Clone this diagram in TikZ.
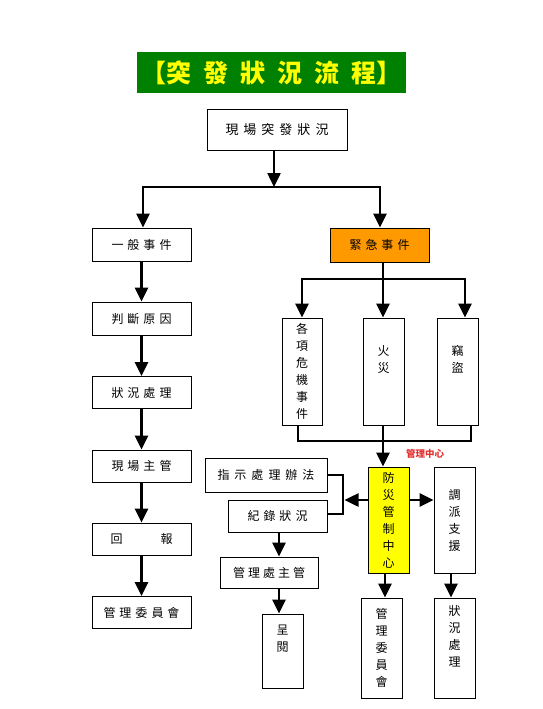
\documentclass[tikz,border=0pt]{standalone}
\usepackage{fontspec}
\setmainfont{Noto Sans CJK TC}
\usetikzlibrary{arrows.meta}
\definecolor{tgreen}{RGB}{0,128,0}
\definecolor{tyellow}{RGB}{255,255,0}
\definecolor{torange}{RGB}{255,153,0}
\definecolor{tred}{RGB}{225,50,50}
\newcommand\gp{\hspace{4pt}}
\begin{document}
\begin{tikzpicture}[x=1pt,y=-1pt,
  box/.style={draw, line width=0.8pt, inner sep=0pt, align=center, font=\fontsize{12}{17}\selectfont},
  hbox/.style={box, minimum width=99pt, minimum height=33pt},
  vbox/.style={box, minimum width=41pt},
  arr/.style={line width=2.5pt, -{Triangle[length=14pt,width=13pt]}},
  ln/.style={line width=2.5pt}]
\useasboundingbox (0,0) rectangle (542,709);
% title
\node[fill=tgreen, minimum width=269pt, minimum height=41pt, inner sep=0pt,
      text=tyellow, font=\fontsize{25}{28}\selectfont\bfseries] (title) at (271.5,72.5)
  {【突\hspace{12pt}發\hspace{12pt}狀\hspace{12pt}況\hspace{12pt}流\hspace{12pt}程】};
% top
\node[box, minimum width=140pt, minimum height=41pt, font=\fontsize{13}{17}\selectfont] (top) at (277,129.5)
  {現\hspace{5pt}場\hspace{5pt}突\hspace{5pt}發\hspace{5pt}狀\hspace{5pt}況};
% left column
\node[hbox] (gen) at (141.5,244.5) {一\gp 般\gp 事\gp 件};
\node[hbox] (judge) at (141.5,318.5) {判\gp 斷\gp 原\gp 因};
\node[hbox, minimum height=32pt] (handle) at (141.5,392.5) {狀\gp 況\gp 處\gp 理};
\node[hbox, minimum height=32pt] (site) at (141.5,466) {現\gp 場\gp 主\gp 管};
\node[hbox, minimum height=32pt] (report) at (141.5,539) {回\hspace{38pt}報};
\node[hbox, minimum height=32pt] (comm) at (141.5,612.5) {管\gp 理\gp 委\gp 員\gp 會};
% right side
\node[hbox, fill=torange, minimum height=34pt] (emer) at (379.5,245) {緊\gp 急\gp 事\gp 件};
\node[vbox, minimum width=40pt, minimum height=107pt] (crisis) at (302,371.5) {各\\項\\危\\機\\事\\件};
\node[vbox, minimum height=107pt] (fire) at (383.5,371.5) {火\\災\\[8pt]};
\node[vbox, minimum height=107pt] (theft) at (457.5,371.5) {竊\\盜\\[8pt]};
\node[vbox, fill=tyellow, minimum height=106pt] (ctrl) at (388.5,520) {防\\災\\管\\制\\中\\心};
\node[vbox, minimum height=106pt] (disp) at (454.5,520) {調\\派\\支\\援};
\node[vbox, minimum height=100pt] (comm2) at (381.5,648) {管\\理\\委\\員\\會};
\node[vbox, minimum height=100pt] (handle2) at (454.5,648) {狀\\況\\處\\理\\[8pt]};
\node[box, minimum width=122pt, minimum height=34pt] (instr) at (266,475)
  {指\hspace{5pt}示\hspace{5pt}處\hspace{5pt}理\hspace{5pt}辦\hspace{5pt}法};
\node[box, minimum width=99pt, minimum height=32pt] (record) at (277.5,516) {紀\gp 錄\gp 狀\gp 況};
\node[box, minimum width=98pt, minimum height=31pt] (mhead) at (269,572.5) {管\hspace{3pt}理\hspace{3pt}處\hspace{3pt}主\hspace{3pt}管};
\node[vbox, minimum height=74pt] (review) at (282.5,651) {呈\\閱\\[8pt]};
\node[text=tred, font=\fontsize{9.5}{11}\selectfont\bfseries] (mc) at (425,454) {管理中心};
% coordinates
\coordinate (tj) at (274,187);
\coordinate (ej) at (383,279);
\coordinate (cj) at (383,441);
\coordinate (bt) at (343,475);
\coordinate (bb) at (343,514);
\coordinate (bm) at (344.5,500);
% connectors
\draw[arr] ([xshift=-3pt]top.south) -- (tj);
\draw[arr] (tj) -| ([xshift=1.5pt]gen.north);
\draw[arr] (tj) -| ([xshift=0.5pt]emer.north);
\draw[arr] (gen) -- (judge);
\draw[arr] (judge) -- (handle);
\draw[arr] (handle) -- (site);
\draw[arr] (site) -- (report);
\draw[arr] (report) -- (comm);
\draw[ln] ([xshift=3.5pt]emer.south) -- (ej);
\draw[arr] (ej) -| (crisis.north);
\draw[arr] (ej) -- (ej |- fire.north);
\draw[arr] (ej) -| ([xshift=7.5pt]theft.north);
\draw[ln] ([xshift=-4pt]crisis.south) |- (cj) -| ([xshift=13.5pt]theft.south);
\draw[ln] (ej |- fire.south) -- (cj);
\draw[arr] (cj) -- (cj |- ctrl.north);
\draw[arr] ([yshift=20pt]ctrl.east) -- ([yshift=20pt]disp.west);
\draw[arr] ([yshift=20pt]ctrl.west) -- (bm);
\draw[ln] (instr.east) -- (bt) -- (bb) -- ([yshift=2pt]record.east);
\draw[arr] ([xshift=1.5pt]record.south) -- ([xshift=1.5pt]record.south |- mhead.north);
\draw[arr] ([xshift=10pt]mhead.south) -- ([xshift=10pt]mhead.south |- review.north);
\draw[arr] ([xshift=-3.5pt]ctrl.south) -- ([xshift=3.5pt]comm2.north);
\draw[arr] ([xshift=-3.5pt]disp.south) -- ([xshift=-3.5pt]handle2.north);
\end{tikzpicture}
\end{document}
